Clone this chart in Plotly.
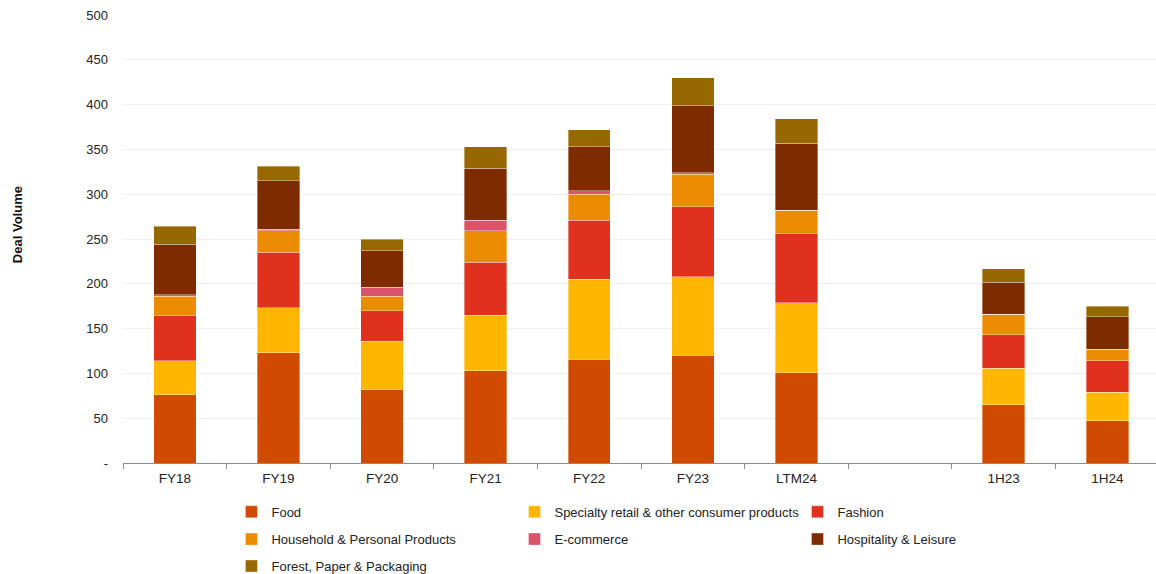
import plotly.graph_objects as go

categories = ["FY18", "FY19", "FY20", "FY21", "FY22", "FY23", "LTM24", " ", "1H23", "1H24"]

food        = [76, 123, 82, 103, 116, 120, 101, None, 65, 47]
specialty   = [38, 50, 54, 62, 89, 88, 78, None, 41, 32]
fashion     = [51, 62, 34, 59, 66, 78, 77, None, 37, 35]
household   = [21, 24, 16, 35, 29, 36, 26, None, 23, 13]
ecommerce   = [2, 2, 10, 12, 4, 2, 0, None, 0, 0]
hospitality = [56, 54, 41, 58, 49, 75, 75, None, 36, 36]
forest      = [20, 16, 13, 24, 19, 31, 27, None, 15, 12]

series_names = [
    "Food",
    "Specialty retail & other consumer products",
    "Fashion",
    "Household & Personal Products",
    "E-commerce",
    "Hospitality & Leisure",
    "Forest, Paper & Packaging",
]
series_values = [food, specialty, fashion, household, ecommerce, hospitality, forest]
series_colors = ["#D04A02", "#FFB600", "#E0301E", "#EB8C00", "#DB536A", "#7F2B00", "#986800"]
series_legend = ["legend", "legend", "legend", "legend2", "legend2", "legend2", "legend3"]

y_tickvals = [0, 50, 100, 150, 200, 250, 300, 350, 400, 450, 500]
y_ticktext = ["-", "50", "100", "150", "200", "250", "300", "350", "400", "450", "500"]

FONT = "Liberation Sans, Arial, sans-serif"

fig = go.Figure()
for name, vals, col, lg in zip(series_names, series_values, series_colors, series_legend):
    fig.add_trace(go.Bar(
        x=categories, y=vals, name=name,
        marker=dict(color=col, line=dict(width=0.6, color="rgba(255,255,255,0.6)")),
        legend=lg,
    ))

legend_common = dict(
    orientation="h", xanchor="left", yanchor="middle",
    entrywidth=238, entrywidthmode="pixels",
    font=dict(family=FONT, size=13, color="#222222"),
    itemwidth=30, bgcolor="rgba(0,0,0,0)", traceorder="normal",
)

fig.update_layout(
    width=1156, height=574,
    barmode="stack", bargap=0.59,
    plot_bgcolor="white", paper_bgcolor="white",
    margin=dict(l=123, r=0, t=15, b=111, autoexpand=False),
    font=dict(family=FONT, size=12, color="#222222"),
    legend=dict(x=0.105, y=-0.109, **legend_common),
    legend2=dict(x=0.105, y=-0.170, **legend_common),
    legend3=dict(x=0.105, y=-0.230, **legend_common),
    xaxis=dict(
        type="category", categoryorder="array", categoryarray=categories,
        range=[-0.5, 9.47],
        showline=True, linecolor="#8C8C8C", linewidth=1,
        ticks="outside", tickson="boundaries", ticklen=5, tickcolor="#8C8C8C",
        ticklabelstandoff=3,
        showgrid=False,
        tickfont=dict(family=FONT, size=13.5, color="#222222"),
    ),
    yaxis=dict(
        range=[0, 500], tickvals=y_tickvals, ticktext=y_ticktext,
        showgrid=True, gridcolor="#EFEFEF", gridwidth=1,
        zeroline=False, showline=False,
        ticks="", ticklabelstandoff=14,
        tickfont=dict(family=FONT, size=13, color="#222222"),
    ),
    annotations=[dict(
        text="<b>Deal Volume</b>", textangle=-90,
        xref="paper", yref="paper", x=-0.1026, y=0.531,
        xanchor="center", yanchor="middle", showarrow=False,
        font=dict(family=FONT, size=13, color="#111111"),
    )],
)

fig.write_html("out.html")
